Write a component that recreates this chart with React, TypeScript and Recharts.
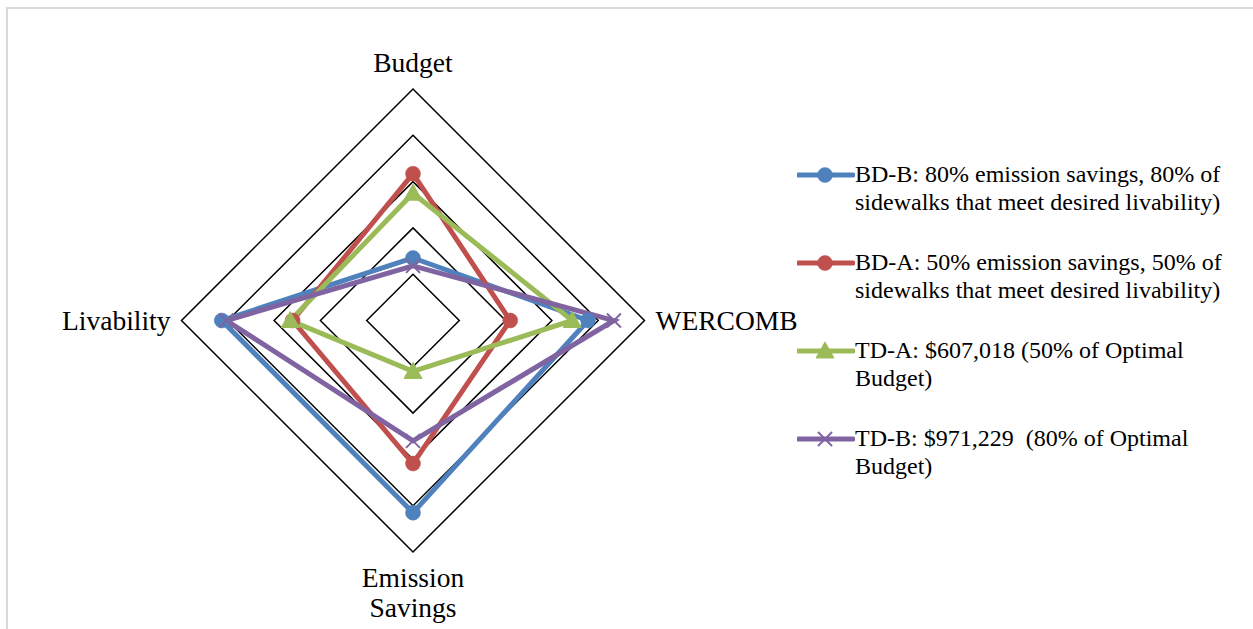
import React from 'react';
import { RadarChart, Radar, PolarGrid, PolarAngleAxis, PolarRadiusAxis, Legend } from 'recharts';

const categories = ['Budget', 'WERCOMB', 'Emission Savings', 'Livability'];
const bdB = [1.35, 3.78, 4.15, 4.13];
const bdA = [3.17, 2.1, 3.09, 2.6];
const tdA = [2.75, 3.44, 1.1, 2.65];
const tdB = [1.18, 4.34, 2.6, 4.03];

const seriesKeys = ['bdB', 'bdA', 'tdA', 'tdB'];
const seriesNames = [
  'BD-B: 80% emission savings, 80% of sidewalks that meet desired livability)',
  'BD-A: 50% emission savings, 50% of sidewalks that meet desired livability)',
  'TD-A: $607,018 (50% of Optimal Budget)',
  'TD-B: $971,229  (80% of Optimal Budget)',
];
const seriesColors = ['#4F81BD', '#C0504D', '#9BBB59', '#8064A2'];
const seriesMarkers = ['circle', 'circle', 'triangle', 'x'];

const data = categories.map((c, i) => ({
  axis: c,
  bdB: bdB[i],
  bdA: bdA[i],
  tdA: tdA[i],
  tdB: tdB[i],
}));

const FONT = '"Liberation Serif", "Times New Roman", serif';

function Marker({ kind, x, y, color }: { kind: string; x: number; y: number; color: string }) {
  if (kind === 'circle') return <circle cx={x} cy={y} r={7.5} fill={color} stroke={color} strokeWidth={0.5} />;
  if (kind === 'triangle')
    return <polygon points={`${x},${y - 9} ${x + 9},${y + 7} ${x - 9},${y + 7}`} fill={color} stroke={color} strokeWidth={1} />;
  return (
    <g stroke={color} strokeWidth={2}>
      <line x1={x - 7} y1={y - 7} x2={x + 7} y2={y + 7} />
      <line x1={x - 7} y1={y + 7} x2={x + 7} y2={y - 7} />
    </g>
  );
}

const makeDot = (kind: string, color: string) => (props: any) => (
  <Marker key={`${kind}-${props.index}-${props.cx}`} kind={kind} x={props.cx} y={props.cy} color={color} />
);

const AngleTick = (props: any) => {
  const { x, y, payload } = props;
  const v: string = payload.value;
  const common = { fill: '#000', fontFamily: FONT, fontSize: 27.5 } as any;
  if (v === 'Budget')
    return <text x={x} y={y - 9} textAnchor="middle" {...common}>{v}</text>;
  if (v === 'WERCOMB')
    return <text x={x + 3} y={y + 9} textAnchor="start" {...common}>{v}</text>;
  if (v === 'Livability')
    return <text x={x - 3} y={y + 9} textAnchor="end" {...common}>{v}</text>;
  const parts = v.split(' ');
  return (
    <text x={x} y={y} textAnchor="middle" {...common}>
      <tspan x={x} dy={27}>{parts[0]}</tspan>
      <tspan x={x} dy={30}>{parts[1]}</tspan>
    </text>
  );
};

const CustomLegend = () => (
  <div style={{ fontFamily: FONT, fontSize: 24, color: '#000' }}>
    {seriesNames.map((name, i) => (
      <div key={name} style={{ display: 'flex', alignItems: 'flex-start', marginBottom: 33 }}>
        <svg width={58} height={28} style={{ flex: '0 0 58px' }}>
          <line x1={1} y1={14} x2={56} y2={14} stroke={seriesColors[i]} strokeWidth={5} strokeLinecap="round" />
          <Marker kind={seriesMarkers[i]} x={28} y={14} color={seriesColors[i]} />
        </svg>
        <div style={{ width: 385, lineHeight: '27.5px', whiteSpace: 'pre-wrap' }}>{name}</div>
      </div>
    ))}
  </div>
);

export default function App() {
  return (
    <div style={{ position: 'absolute', left: 0, top: 0, width: 1253, height: 629, overflow: 'hidden', background: '#fff' }}>
      <div
        style={{
          position: 'absolute',
          left: 6,
          top: 7,
          width: 1400,
          height: 800,
          borderLeft: '2px solid #d9d9d9',
          borderTop: '2px solid #d9d9d9',
        }}
      />
      <div style={{ position: 'absolute', left: 0, top: 0 }}>
        <RadarChart
          width={1253}
          height={629}
          cx={413}
          cy={320.5}
          outerRadius={231.5}
          data={data}
          margin={{ top: 0, right: 0, bottom: 0, left: 0 }}
        >
          <PolarGrid gridType="polygon" radialLines={false} stroke="#000" strokeWidth={1.5} />
          <PolarAngleAxis dataKey="axis" tick={AngleTick} axisLine={false} tickLine={false} />
          <PolarRadiusAxis domain={[0, 5]} tickCount={6} tick={false} axisLine={false} />
          {seriesKeys.map((k, i) => (
            <Radar
              key={k}
              name={seriesNames[i]}
              dataKey={k}
              stroke={seriesColors[i]}
              strokeWidth={5}
              fill="none"
              fillOpacity={0}
              dot={makeDot(seriesMarkers[i], seriesColors[i])}
              isAnimationActive={false}
            />
          ))}
          <Legend content={CustomLegend} wrapperStyle={{ left: 797, top: 161, width: 450, bottom: 'auto' }} />
        </RadarChart>
      </div>
    </div>
  );
}
